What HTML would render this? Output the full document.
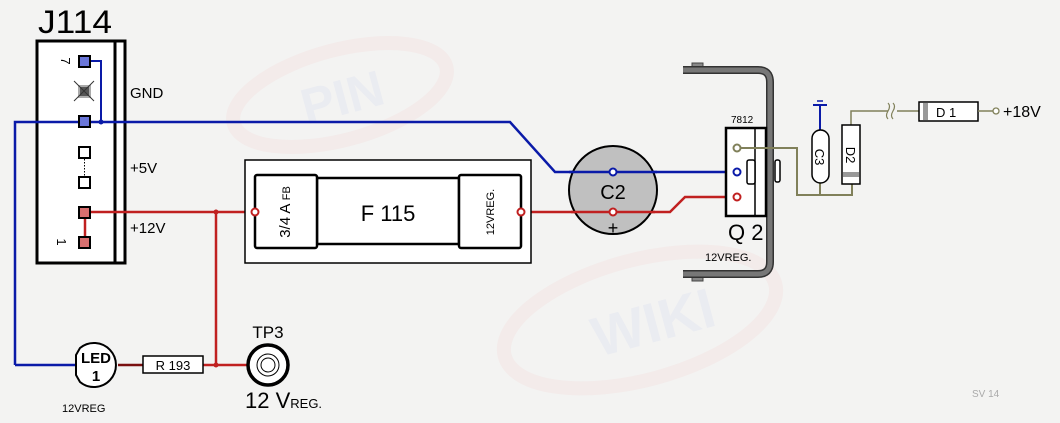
<!DOCTYPE html>
<html><head><meta charset="utf-8"><style>
html,body{margin:0;padding:0;background:#f3f3f2;}
svg{display:block;font-family:"Liberation Sans",sans-serif;}
</style></head><body>
<svg width="1060" height="423" viewBox="0 0 1060 423" xmlns="http://www.w3.org/2000/svg">
<rect width="1060" height="423" fill="#f3f3f2"/>
<!-- watermarks -->
<g opacity="0.2" fill="none">
<ellipse cx="340" cy="95" rx="110" ry="45" stroke="#f3caca" stroke-width="14" transform="rotate(-15 340 95)"/>
<text x="300" y="115" font-size="50" font-weight="bold" fill="#c9cfee" transform="rotate(-15 340 95)">PIN</text>
<ellipse cx="640" cy="320" rx="140" ry="60" stroke="#f3caca" stroke-width="14" transform="rotate(-15 640 320)"/>
<text x="590" y="345" font-size="56" font-weight="bold" fill="#c9cfee" transform="rotate(-15 640 320)">WIKI</text>
</g>
<!-- J114 -->
<text x="38" y="33" font-size="32" fill="#000" textLength="74" lengthAdjust="spacingAndGlyphs">J114</text>
<rect x="37" y="41" width="88" height="222" fill="#fff" stroke="#000" stroke-width="3"/>
<line x1="115" y1="41" x2="115" y2="263" stroke="#000" stroke-width="3"/>
<!-- wires -->
<polyline points="15,365 15,122 510,122 555,172 740,172" fill="none" stroke="#0a1aa8" stroke-width="2.5"/>
<line x1="15" y1="365" x2="76" y2="365" stroke="#0a1aa8" stroke-width="2.5"/>
<polyline points="85,61 101,61 101,122" fill="none" stroke="#0a1aa8" stroke-width="2"/>
<circle cx="101" cy="122" r="2.5" fill="#0a1aa8"/>
<line x1="85" y1="212" x2="85" y2="242" stroke="#c02020" stroke-width="2.5"/>
<line x1="85" y1="212" x2="252" y2="212" stroke="#c02020" stroke-width="2.5"/>
<line x1="216" y1="212" x2="216" y2="365" stroke="#c02020" stroke-width="2.5"/>
<circle cx="216" cy="212" r="2.5" fill="#c02020"/>
<circle cx="216" cy="365" r="2.5" fill="#c02020"/>
<line x1="203" y1="365" x2="248" y2="365" stroke="#c02020" stroke-width="2.5"/>
<line x1="118" y1="365" x2="143" y2="365" stroke="#7a1010" stroke-width="2.5"/>
<polyline points="521,212 670,212 685,197 737,197" fill="none" stroke="#c02020" stroke-width="2.5"/>
<!-- pins -->
<g stroke="#000" stroke-width="2">
<rect x="79" y="56" width="11" height="11" fill="#6a76d8"/>
<rect x="79" y="116" width="11" height="11" fill="#6a76d8"/>
<rect x="79" y="147" width="11" height="11" fill="#fff"/>
<rect x="79" y="177" width="11" height="11" fill="#fff"/>
<rect x="79" y="207" width="11" height="11" fill="#d87070"/>
<rect x="79" y="237" width="11" height="11" fill="#d87070"/>
</g>
<rect x="79" y="86" width="11" height="11" fill="#555" stroke="#aaa" stroke-width="2"/>
<g stroke="#333" stroke-width="1"><line x1="74" y1="81" x2="94" y2="101"/><line x1="94" y1="81" x2="74" y2="101"/></g>
<line x1="84.5" y1="159" x2="84.5" y2="176" stroke="#000" stroke-dasharray="1.5,1.5"/>
<text x="66" y="66" font-size="13" transform="rotate(90 66 61)" text-anchor="middle">7</text>
<text x="62" y="247" font-size="13" transform="rotate(90 62 242)" text-anchor="middle">1</text>
<text x="130" y="98" font-size="15">GND</text>
<text x="130" y="173" font-size="15">+5V</text>
<text x="130" y="233" font-size="15">+12V</text>
<!-- Fuse -->
<rect x="245" y="160" width="286" height="103" fill="#fff" stroke="#000" stroke-width="1.5"/>
<rect x="317" y="178" width="142" height="66" fill="#fff" stroke="#000" stroke-width="2.5"/>
<rect x="255" y="175" width="62" height="73" rx="2" fill="#fff" stroke="#000" stroke-width="2.5"/>
<rect x="459" y="175" width="62" height="73" rx="2" fill="#fff" stroke="#000" stroke-width="2.5"/>
<text x="388" y="221" font-size="22" text-anchor="middle">F 115</text>
<text font-size="15" transform="translate(290 212) rotate(-90)" text-anchor="middle">3/4 A <tspan font-size="11">FB</tspan></text>
<text font-size="11" transform="translate(494 212) rotate(-90)" text-anchor="middle">12VREG.</text>
<circle cx="255" cy="212" r="3.5" fill="#fff" stroke="#c02020" stroke-width="2"/>
<circle cx="521" cy="212" r="3.5" fill="#fff" stroke="#c02020" stroke-width="2"/>
<!-- C2 -->
<circle cx="613" cy="190" r="44" fill="#c0c0c0" stroke="#000" stroke-width="2"/>
<line x1="569" y1="172" x2="657" y2="172" stroke="#0a1aa8" stroke-width="2.5"/>
<line x1="571" y1="212" x2="655" y2="212" stroke="#c02020" stroke-width="2.5"/>
<circle cx="613" cy="172" r="3.5" fill="#fff" stroke="#0a1aa8" stroke-width="2"/>
<circle cx="613" cy="212" r="3.5" fill="#fff" stroke="#c02020" stroke-width="2"/>
<text x="613" y="199" font-size="20" text-anchor="middle">C2</text>
<text x="613" y="234" font-size="18" text-anchor="middle">+</text>
<!-- heatsink -->
<rect x="692" y="63" width="11" height="5" fill="#888" stroke="#444"/>
<rect x="692" y="276" width="11" height="5" fill="#888" stroke="#444"/>
<path d="M683,70 L758,70 Q770,70 770,82 L770,262 Q770,274 758,274 L683,274" fill="none" stroke="#333" stroke-width="8"/>
<path d="M683,70 L758,70 Q770,70 770,82 L770,262 Q770,274 758,274 L683,274" fill="none" stroke="#777" stroke-width="5"/>
<!-- Q2 -->
<rect x="726" y="128" width="40" height="88" fill="#fff" stroke="#000" stroke-width="2.5"/>
<line x1="755" y1="128" x2="755" y2="216" stroke="#000" stroke-width="1.5"/>
<rect x="747" y="160" width="8" height="24" rx="2" fill="#fff" stroke="#000" stroke-width="1.5"/>
<rect x="775" y="160" width="5" height="22" rx="2" fill="#fff" stroke="#000" stroke-width="1.5"/>
<text x="731" y="123" font-size="10">7812</text>
<polyline points="737,148 797,148 797,195 852,195 852,184" fill="none" stroke="#80805a" stroke-width="2"/>
<circle cx="737" cy="148" r="3.5" fill="#fff" stroke="#80805a" stroke-width="2"/>
<circle cx="737" cy="172" r="3.5" fill="#fff" stroke="#0a1aa8" stroke-width="2"/>
<circle cx="737" cy="197" r="3.5" fill="#fff" stroke="#c02020" stroke-width="2"/>
<text x="728" y="240" font-size="22">Q 2</text>
<text x="705" y="261" font-size="11">12VREG.</text>
<!-- C3 -->
<line x1="820" y1="104" x2="820" y2="132" stroke="#0a1aa8" stroke-width="2"/>
<line x1="813" y1="105" x2="827" y2="105" stroke="#0a1aa8" stroke-width="2"/>
<line x1="817" y1="101" x2="823" y2="101" stroke="#0a1aa8" stroke-width="1.5"/>
<line x1="820" y1="182" x2="820" y2="195" stroke="#80805a" stroke-width="2"/>
<rect x="812" y="130" width="17" height="53" rx="8.5" fill="#fff" stroke="#000" stroke-width="1.5"/>
<text font-size="13" transform="translate(815 157) rotate(90)" text-anchor="middle">C3</text>
<!-- D2 -->
<polyline points="851,125 851,111 888,111" fill="none" stroke="#80805a" stroke-width="1.5"/>
<path d="M888,111 q3,-5 0,-8 M888,111 q-3,5 0,8 M893,111 q3,-5 0,-8 M893,111 q-3,5 0,8" fill="none" stroke="#80805a" stroke-width="1.2"/>
<line x1="897" y1="111" x2="919" y2="111" stroke="#80805a" stroke-width="1.5"/>
<rect x="842" y="125" width="18" height="59" fill="#fff" stroke="#000" stroke-width="1.5"/>
<rect x="843" y="172" width="16" height="5" fill="#999"/>
<text font-size="13" transform="translate(846 155) rotate(90)" text-anchor="middle">D2</text>
<!-- D1 -->
<rect x="919" y="102" width="59" height="19" fill="#fff" stroke="#000" stroke-width="1.5"/>
<rect x="923" y="103" width="5" height="17" fill="#999"/>
<text x="936" y="117" font-size="13">D 1</text>
<line x1="978" y1="111" x2="993" y2="111" stroke="#80805a" stroke-width="1.5"/>
<circle cx="996" cy="111" r="3" fill="#fff" stroke="#80805a" stroke-width="1.3"/>
<text x="1003" y="117" font-size="16">+18V</text>
<!-- LED -->
<path d="M80,348 A22,22 0 1 1 80,382 L76,375 L76,355 Z" fill="#fff" stroke="#000" stroke-width="2"/>
<text x="96" y="363" font-size="15" font-weight="bold" text-anchor="middle">LED</text>
<text x="96" y="381" font-size="15" font-weight="bold" text-anchor="middle">1</text>
<text x="62" y="412" font-size="11">12VREG</text>
<!-- R193 -->
<rect x="143" y="356" width="60" height="17" fill="#fff" stroke="#000" stroke-width="1.5"/>
<text x="173" y="370" font-size="13" text-anchor="middle">R 193</text>
<!-- TP3 -->
<circle cx="268" cy="365" r="20" fill="#fff" stroke="#000" stroke-width="3.5"/>
<circle cx="268" cy="365" r="11" fill="none" stroke="#000" stroke-width="1"/>
<circle cx="268" cy="365" r="7" fill="none" stroke="#000" stroke-width="1"/>
<text x="268" y="338" font-size="17" text-anchor="middle">TP3</text>
<text x="245" y="408" font-size="22">12 V<tspan font-size="13">REG.</tspan></text>
<text x="972" y="397" font-size="10" fill="#aaa">SV 14</text>
</svg>
</body></html>
